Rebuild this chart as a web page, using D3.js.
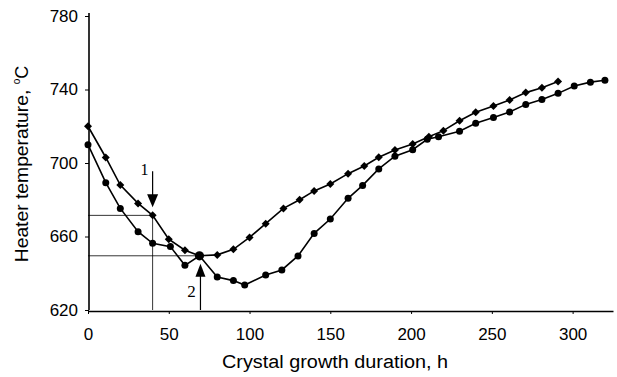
<!DOCTYPE html>
<html><head><meta charset="utf-8">
<script src="https://cdn.jsdelivr.net/npm/d3@7"></script>
<style>
html,body{margin:0;padding:0;background:#fff;}
svg{display:block;font-family:"Liberation Sans",Arial,Helvetica,sans-serif;}
</style></head>
<body><svg id="c" width="617" height="377"></svg>
<script>
// Series 1 (diamonds)
const diamondX = [0,11,20,31,40,50,60,69,80,90,100,110,121,131,140,150,161,171,180,190,201,211,220,230,240,251,261,271,281,291];
const diamondT = [720,703,688,678,671.5,658.5,652.5,649.5,650,653,659.5,667,675.3,680,684.8,688.6,694.2,698.4,703.1,707.1,710.3,714.3,717.6,723,727.6,731,734.3,738.3,741,744.3];
// Series 2 (circles)
const circleX = [0,11,20,31,40,51,60,69,80,90,97,110,120,130,140,150,161,170,180,190,201,210,217,230,240,251,261,271,281,291,301,311,320];
const circleT = [710,689.3,675.3,662.6,656.3,654.5,644.3,649.5,638,636,633.6,639,641.8,649.4,661.7,669.5,680.8,687.8,696.8,703.7,707.2,712.9,714.3,717.3,721.6,724.8,727.8,731.9,734.6,737.9,741.9,744,745];
const xTicks = [0,50,100,150,200,250,300];
const yTicks = [620,660,700,740,780];
// annotated points: arrow 1 on diamonds, arrow 2 at the crossing
const mark1 = {x:40, t:671.5, label:"1"};
const mark2 = {x:69, t:649.5, label:"2"};

const svg = d3.select("#c");
const x = d3.scaleLinear().domain([0,325]).range([88,613]);
const y = d3.scaleLinear().domain([620,780]).range([310,16]);

// reference lines
const ref = svg.append("g").attr("stroke","#000").attr("stroke-width",0.8).attr("fill","none");
[mark1, mark2].forEach(m=>{
  ref.append("line").attr("x1",x(0)).attr("x2",x(m.x)).attr("y1",y(m.t)).attr("y2",y(m.t));
});
ref.append("line").attr("x1",x(mark1.x)).attr("x2",x(mark1.x)).attr("y1",y(mark1.t)).attr("y2",y(620));

// axes
const xAxis = d3.axisBottom(x).tickValues(xTicks).tickSize(3).tickPadding(14).tickSizeOuter(0);
const yAxis = d3.axisLeft(y).tickValues(yTicks).tickSize(4).tickPadding(7).tickSizeOuter(0);
const gx = svg.append("g").attr("transform",`translate(0,${y(620)+1})`).call(xAxis);
const gy = svg.append("g").attr("transform",`translate(${x(0)+1},0)`).call(yAxis);
[gx,gy].forEach(g=>{
  g.selectAll("path").attr("stroke","#000").attr("stroke-width",1.6);
  g.selectAll("line").attr("stroke","#000").attr("stroke-width",1);
  g.selectAll("text").attr("font-size",17).attr("fill","#000").attr("font-family","'Liberation Sans',Arial,sans-serif");
});
gy.select("path").attr("d",`M0,${y(620)}V13`);

// lines
const line = d3.line().x(d=>x(d[0])).y(d=>y(d[1]));
const dData = diamondX.map((v,i)=>[v,diamondT[i]]);
const cData = circleX.map((v,i)=>[v,circleT[i]]);
svg.append("path").datum(dData).attr("d",line).attr("fill","none").attr("stroke","#000").attr("stroke-width",1.6);
svg.append("path").datum(cData).attr("d",line).attr("fill","none").attr("stroke","#000").attr("stroke-width",1.6);

// markers
svg.append("g").selectAll("path").data(dData).join("path")
  .attr("d",d3.symbol().type(d3.symbolSquare).size(32))
  .attr("transform",d=>`translate(${x(d[0])},${y(d[1])}) rotate(45)`).attr("fill","#000");
svg.append("g").selectAll("circle").data(cData).join("circle")
  .attr("cx",d=>x(d[0])).attr("cy",d=>y(d[1])).attr("r",d=>d[0]===mark2.x?4.6:3.5).attr("fill","#000");

// arrows
const ar = svg.append("g");
// arrow 1 (downward)
const a1x = x(mark1.x), a1tip = y(mark1.t)-8;
ar.append("line").attr("x1",a1x).attr("x2",a1x).attr("y1",a1tip-36).attr("y2",a1tip-12).attr("stroke","#000").attr("stroke-width",1.2);
ar.append("path").attr("d",`M${a1x-5.5},${a1tip-13}L${a1x+5.5},${a1tip-13}L${a1x},${a1tip}Z`).attr("fill","#000");
ar.append("text").attr("x",a1x-8).attr("y",a1tip-32).attr("font-family","'Liberation Serif','Times New Roman',serif").attr("font-size",16).attr("text-anchor","middle").text(mark1.label);
// arrow 2 (upward)
const a2x = x(mark2.x)+1, a2tip = y(mark2.t)+8;
ar.append("line").attr("x1",a2x).attr("x2",a2x).attr("y1",a2tip+12).attr("y2",y(620)).attr("stroke","#000").attr("stroke-width",1.2);
ar.append("path").attr("d",`M${a2x-5},${a2tip+13}L${a2x+5},${a2tip+13}L${a2x},${a2tip}Z`).attr("fill","#000");
ar.append("text").attr("x",a2x-9).attr("y",a2tip+33).attr("font-family","'Liberation Serif','Times New Roman',serif").attr("font-size",17).attr("text-anchor","middle").text(mark2.label);

// titles
svg.append("text").attr("x",335).attr("y",368).attr("text-anchor","middle").attr("font-size",18)
  .attr("textLength",226).attr("lengthAdjust","spacingAndGlyphs").attr("fill","#000").text("Crystal growth duration, h");
const yt = svg.append("text").attr("transform","translate(28,164) rotate(-90)").attr("text-anchor","middle").attr("font-size",18).attr("fill","#000");
yt.append("tspan").attr("textLength",178).attr("lengthAdjust","spacingAndGlyphs").text("Heater temperature, ");
yt.append("tspan").attr("font-size",10).attr("dy",-8).text("o");
yt.append("tspan").attr("dy",8).text("C");
</script></body></html>
